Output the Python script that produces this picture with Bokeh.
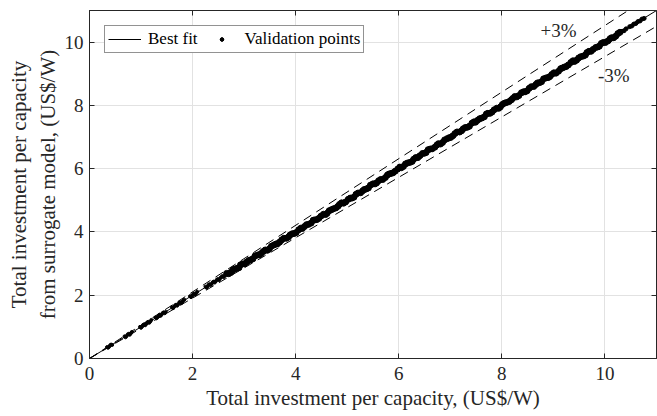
from bokeh.plotting import figure
from bokeh.models import Range1d, LinearAxis, FixedTicker, Legend, LegendItem
from bokeh.core.properties import value
from bokeh.embed import file_html
from bokeh.resources import INLINE

FONT = "Liberation Serif"
INK = "#262626"

# ---- data ----
tick_values = [0, 2, 4, 6, 8, 10]

fit_x = [0, 11]
fit_y = [0, 11]

plus_x = [0, 10.45]
plus_y = [0, 11]
minus_x = [0, 11]
minus_y = [0, 10.5]

note_x = [9.10, 10.17]
note_y = [10.37, 8.94]
note_text = ["+3%", "-3%"]

# validation points, sparse low range
val_x_low = [0.34, 0.38, 0.42, 0.36, 0.40, 0.44,
             0.68, 0.72, 0.76, 0.80, 0.70, 0.74, 0.78, 0.82,
             0.98, 1.02, 1.06, 1.10, 1.14, 1.18, 1.00, 1.04, 1.08, 1.12, 1.16, 1.20,
             1.28, 1.32, 1.36, 1.40, 1.44, 1.48, 1.30, 1.34, 1.38, 1.42, 1.46,
             1.60, 1.64, 1.68, 1.72, 1.76, 1.80, 1.84, 1.62, 1.66, 1.70, 1.74, 1.78, 1.82,
             1.95, 1.99, 2.03, 2.07, 1.97, 2.01, 2.05, 2.09,
             2.25, 2.29, 2.33, 2.37, 2.41, 2.45, 2.49, 2.53, 2.27, 2.31, 2.35, 2.39, 2.43, 2.47, 2.51, 2.55,
             2.58, 2.62, 2.60]
val_y_low = [0.36, 0.37, 0.44, 0.34, 0.42, 0.43,
             0.70, 0.71, 0.78, 0.79, 0.67, 0.76, 0.75, 0.84,
             1.00, 1.01, 1.08, 1.09, 1.16, 1.17, 0.97, 1.06, 1.05, 1.14, 1.13, 1.22,
             1.30, 1.31, 1.38, 1.39, 1.46, 1.47, 1.27, 1.36, 1.35, 1.44, 1.43,
             1.62, 1.63, 1.70, 1.71, 1.78, 1.79, 1.86, 1.59, 1.68, 1.67, 1.76, 1.75, 1.84,
             1.97, 1.98, 2.05, 2.06, 1.94, 2.03, 2.02, 2.11,
             2.27, 2.28, 2.35, 2.36, 2.43, 2.44, 2.51, 2.52, 2.24, 2.33, 2.32, 2.41, 2.40, 2.49, 2.48, 2.57,
             2.61, 2.61, 2.57]

# validation points, dense band
val_x_mid = [2.66, 2.74, 2.81, 2.90, 2.97, 3.05, 3.13, 3.21, 3.30, 3.37, 3.45, 3.53, 3.62, 3.69,
             3.77, 3.86, 3.93, 4.01, 4.10, 4.17, 4.25, 4.34, 4.41, 4.49, 4.58, 4.65, 4.73, 4.82,
             4.89, 4.97, 5.06, 5.13, 5.21, 5.30, 5.37, 5.45, 5.54, 5.61, 5.69, 5.78, 5.85, 5.93,
             6.02, 6.09, 6.17, 6.26, 6.33, 6.41, 6.50, 6.57, 6.65, 6.74, 6.81, 6.89, 6.98, 7.05,
             7.13, 7.22, 7.29, 7.37, 7.46, 7.53, 7.61, 7.70, 7.77, 7.85, 7.94, 8.01, 8.09, 8.18,
             8.25, 8.33, 8.42, 8.49, 8.57, 8.66, 8.73, 8.81, 8.90, 8.97, 9.05, 9.14, 9.21, 9.29,
             9.38, 9.45, 9.53, 9.62, 9.69, 9.77, 9.86, 9.93, 10.01, 10.10, 10.17, 10.25,
             2.70, 2.78, 2.86, 2.93, 3.01, 3.09, 3.17, 3.26, 3.33, 3.41, 3.49, 3.58, 3.65, 3.73,
             3.82, 3.89, 3.97, 4.06, 4.13, 4.21, 4.30, 4.37, 4.45, 4.54, 4.61, 4.69, 4.78, 4.85,
             4.93, 5.02, 5.09, 5.17, 5.26, 5.33, 5.41, 5.50, 5.57, 5.65, 5.74, 5.81, 5.89, 5.98,
             6.05, 6.13, 6.22, 6.29, 6.37, 6.46, 6.53, 6.61, 6.70, 6.77, 6.85, 6.94, 7.01, 7.09,
             7.18, 7.25, 7.33, 7.42, 7.49, 7.57, 7.66, 7.73, 7.81, 7.90, 7.97, 8.05, 8.14, 8.21,
             8.29, 8.38, 8.45, 8.53, 8.62, 8.69, 8.77, 8.86, 8.93, 9.01, 9.10, 9.17, 9.25, 9.34,
             9.41, 9.49, 9.58, 9.65, 9.73, 9.82, 9.89, 9.97, 10.06, 10.13, 10.21, 10.29]
val_y_mid = [2.69, 2.72, 2.82, 2.87, 2.99, 3.05, 3.12, 3.24, 3.28, 3.38, 3.42, 3.55, 3.62, 3.68,
             3.80, 3.84, 3.94, 3.98, 4.12, 4.17, 4.24, 4.37, 4.39, 4.50, 4.55, 4.67, 4.73, 4.81,
             4.92, 4.95, 5.07, 5.10, 5.23, 5.30, 5.36, 5.48, 5.52, 5.62, 5.66, 5.80, 5.85, 5.92,
             6.05, 6.07, 6.18, 6.23, 6.35, 6.41, 6.49, 6.60, 6.63, 6.75, 6.78, 6.91, 6.98, 7.04,
             7.16, 7.20, 7.30, 7.34, 7.48, 7.53, 7.60, 7.73, 7.75, 7.86, 7.91, 8.03, 8.09, 8.17,
             8.28, 8.31, 8.43, 8.46, 8.59, 8.66, 8.72, 8.84, 8.88, 8.98, 9.02, 9.16, 9.21, 9.28,
             9.41, 9.43, 9.54, 9.59, 9.71, 9.77, 9.85, 9.96, 9.99, 10.11, 10.14, 10.27,
             2.68, 2.80, 2.85, 2.96, 2.99, 3.10, 3.15, 3.27, 3.32, 3.43, 3.47, 3.59, 3.63, 3.75,
             3.80, 3.90, 3.95, 4.07, 4.11, 4.23, 4.28, 4.38, 4.43, 4.56, 4.59, 4.70, 4.76, 4.87,
             4.91, 5.03, 5.07, 5.19, 5.24, 5.34, 5.39, 5.52, 5.55, 5.66, 5.72, 5.83, 5.87, 5.99,
             6.03, 6.15, 6.20, 6.30, 6.35, 6.48, 6.51, 6.62, 6.68, 6.79, 6.83, 6.95, 6.99, 7.11,
             7.16, 7.26, 7.31, 7.44, 7.47, 7.58, 7.64, 7.75, 7.79, 7.91, 7.95, 8.07, 8.12, 8.22,
             8.27, 8.40, 8.43, 8.54, 8.60, 8.71, 8.75, 8.87, 8.91, 9.03, 9.08, 9.18, 9.23, 9.36,
             9.39, 9.50, 9.56, 9.67, 9.71, 9.83, 9.87, 9.99, 10.04, 10.14, 10.19, 10.31]

# validation points, thinner top end
val_x_top = [10.33, 10.37, 10.41, 10.48, 10.52, 10.56, 10.60, 10.64, 10.68, 10.72, 10.76]
val_y_top = [10.34, 10.36, 10.42, 10.49, 10.51, 10.57, 10.59, 10.65, 10.67, 10.73, 10.75]

x_label = "Total investment per capacity, (US$/W)"
y_label = "Total investment per capacity\nfrom surrogate model, (US$/W)"

# ---- figure ----
p = figure(width=657, height=416, output_backend="svg", toolbar_location=None,
           x_range=Range1d(0, 11), y_range=Range1d(0, 11),
           min_border_left=89, min_border_right=1, min_border_top=10, min_border_bottom=58,
           x_axis_label=x_label, y_axis_label=y_label)
p.background_fill_color = "white"
p.border_fill_color = "white"
p.outline_line_color = INK
p.outline_line_width = 1


def style_axis(ax, show_labels):
    ax.ticker = FixedTicker(ticks=tick_values)
    ax.major_tick_in = 5
    ax.major_tick_out = 0
    ax.minor_tick_line_color = None
    ax.axis_line_color = INK
    ax.major_tick_line_color = INK
    ax.major_label_text_font = FONT
    if show_labels:
        ax.major_label_text_color = INK
        ax.major_label_text_font_size = "19px"
        ax.axis_label_text_font = FONT
        ax.axis_label_text_font_size = "21px"
        ax.axis_label_text_font_style = "normal"
        ax.axis_label_text_color = INK
    else:
        ax.major_label_text_color = None
        ax.major_label_text_font_size = "1px"
        ax.major_label_standoff = 0
        ax.axis_label = None


style_axis(p.xaxis[0], True)
style_axis(p.yaxis[0], True)
p.xaxis[0].major_label_standoff = 8
p.xaxis[0].axis_label_standoff = 3
p.yaxis[0].major_label_standoff = 6
p.yaxis[0].axis_label_standoff = 2

top_ax = LinearAxis()
right_ax = LinearAxis()
style_axis(top_ax, False)
style_axis(right_ax, False)
p.add_layout(top_ax, "above")
p.add_layout(right_ax, "right")

for g in (p.xgrid[0], p.ygrid[0]):
    g.ticker = FixedTicker(ticks=tick_values)
    g.grid_line_color = "#e2e2e2"
    g.grid_line_width = 1

# dashed +/- bands
p.line(plus_x, plus_y, line_color="black", line_width=1, line_dash="9 6")
p.line(minus_x, minus_y, line_color="black", line_width=1, line_dash="9 6")

# best fit
r_fit = p.line(fit_x, fit_y, line_color="black", line_width=1)

# validation points
r_low = p.scatter(val_x_low, val_y_low, size=3, color="black")
r_mid = p.scatter(val_x_mid, val_y_mid, size=6, color="black")
r_top = p.scatter(val_x_top, val_y_top, size=4, color="black")

p.text(note_x, note_y, text=note_text, text_font=value(FONT), text_font_size="19px",
       text_align="center", text_baseline="middle", text_color=INK)

legend = Legend(items=[LegendItem(label="Best fit", renderers=[r_fit]),
                       LegendItem(label="Validation points", renderers=[r_low, r_mid, r_top])],
                orientation="horizontal", location="top_left")
legend.margin = 15
legend.padding = 3
legend.spacing = 7
legend.glyph_width = 33
legend.glyph_height = 8
legend.label_height = 20
legend.label_standoff = 7
legend.label_text_font = FONT
legend.label_text_font_size = "17px"
legend.label_text_color = "black"
legend.border_line_color = INK
legend.border_line_width = 1
legend.background_fill_color = "white"
legend.background_fill_alpha = 1
p.add_layout(legend, "center")

open("out.html", "w").write(file_html(p, INLINE))
